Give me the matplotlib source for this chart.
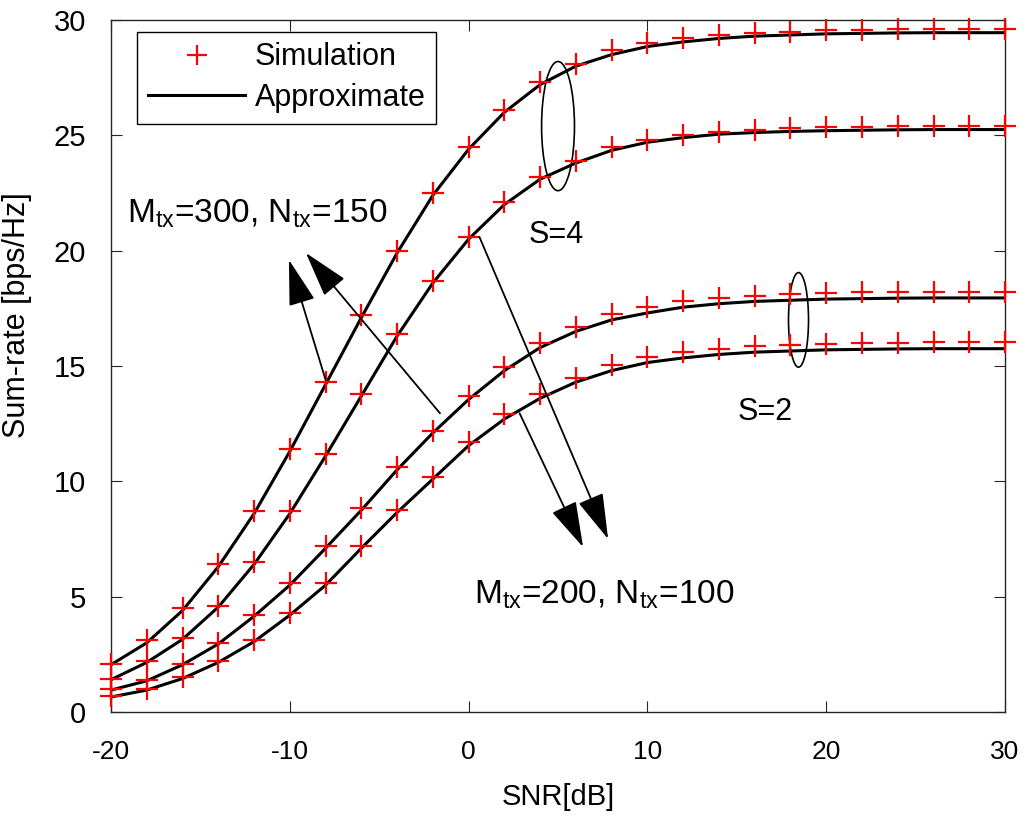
import matplotlib
matplotlib.use("Agg")
import matplotlib.pyplot as plt
from matplotlib.patches import Ellipse

plt.rcParams["font.family"] = ["Liberation Sans", "DejaVu Sans"]
plt.rcParams["mathtext.fontset"] = "custom"
plt.rcParams["mathtext.rm"] = "Liberation Sans"
plt.rcParams["axes.unicode_minus"] = False

# SNR grid (dB)
snr = list(range(-20, 31, 2))

# simulation markers
sim_300_s4 = [2.1, 3.1, 4.5, 6.4, 8.7, 11.4, 14.3, 17.2, 20.0, 22.5, 24.5, 26.1, 27.3,
              28.1, 28.7, 29.0, 29.2, 29.35, 29.45, 29.5, 29.55, 29.55, 29.6, 29.6, 29.6, 29.6]
sim_200_s4 = [1.45, 2.2, 3.2, 4.6, 6.5, 8.7, 11.2, 13.8, 16.4, 18.7, 20.6, 22.1, 23.2,
              23.9, 24.5, 24.8, 25.0, 25.15, 25.25, 25.3, 25.35, 25.35, 25.4, 25.4, 25.4, 25.4]
sim_300_s2 = [1.0, 1.4, 2.1, 3.0, 4.2, 5.6, 7.2, 8.85, 10.6, 12.2, 13.7, 14.95, 16.0,
              16.7, 17.25, 17.55, 17.8, 17.95, 18.05, 18.1, 18.15, 18.2, 18.2, 18.2, 18.2, 18.2]
sim_200_s2 = [0.7, 1.0, 1.5, 2.2, 3.1, 4.3, 5.6, 7.2, 8.75, 10.2, 11.7, 12.9, 13.8,
              14.5, 15.05, 15.4, 15.6, 15.75, 15.85, 15.9, 15.95, 16.0, 16.0, 16.05, 16.05, 16.05]

# approximation curves
apx_300_s4 = [2.05, 3.0, 4.4, 6.3, 8.6, 11.3, 14.2, 17.1, 19.9, 22.4, 24.4, 26.0, 27.2,
              28.0, 28.5, 28.85, 29.05, 29.2, 29.3, 29.35, 29.4, 29.42, 29.44, 29.45, 29.45, 29.45]
apx_200_s4 = [1.4, 2.15, 3.15, 4.55, 6.4, 8.6, 11.1, 13.7, 16.3, 18.6, 20.5, 22.0, 23.1,
              23.8, 24.35, 24.7, 24.9, 25.05, 25.12, 25.17, 25.2, 25.22, 25.24, 25.25, 25.25, 25.25]
apx_300_s2 = [0.95, 1.35, 2.05, 2.95, 4.15, 5.5, 7.1, 8.75, 10.5, 12.1, 13.55, 14.8, 15.8,
              16.5, 17.0, 17.3, 17.55, 17.7, 17.8, 17.85, 17.9, 17.92, 17.94, 17.95, 17.95, 17.95]
apx_200_s2 = [0.65, 0.95, 1.45, 2.15, 3.05, 4.2, 5.5, 7.1, 8.65, 10.1, 11.55, 12.7, 13.6,
              14.3, 14.8, 15.15, 15.35, 15.5, 15.6, 15.65, 15.7, 15.72, 15.74, 15.75, 15.75, 15.75]

fig = plt.figure(figsize=(10.31, 8.23), dpi=100)
ax = fig.add_axes([0.1077, 0.1349, 0.8671, 0.8408])

for apx in (apx_300_s4, apx_200_s4, apx_300_s2, apx_200_s2):
    ax.plot(snr, apx, "-", color="black", lw=2.2, zorder=2)
for sim in (sim_300_s4, sim_200_s4, sim_300_s2, sim_200_s2):
    ax.plot(snr, sim, "+", color="red", ms=16, mew=1.6, zorder=3, clip_on=False)

# legend proxies
ax.plot([], [], "+", color="red", ms=15, mew=1.6, label="Simulation")
ax.plot([], [], "-", color="black", lw=2.2, label="Approximate")
leg = ax.legend(loc="upper left", bbox_to_anchor=(0.029, 0.983), borderaxespad=0,
                fontsize=22, fancybox=False, edgecolor="black", framealpha=1,
                handlelength=3.2, borderpad=0.35, labelspacing=0.35, handletextpad=0.3)
leg.get_frame().set_linewidth(1.0)

# grouping ellipses
ax.add_patch(Ellipse((5.0, 25.4), 1.84, 5.6, fill=False, ec="black", lw=1.2))
ax.add_patch(Ellipse((18.45, 17.0), 1.12, 4.1, fill=False, ec="black", lw=1.2))
ax.text(4.9, 20.7, "S=4", fontsize=22, ha="center", va="center")
ax.text(16.6, 13.0, "S=2", fontsize=22, ha="center", va="center")

ax.text(-19.1, 21.6, r"M$_{\mathregular{tx}}$=300, N$_{\mathregular{tx}}$=150",
        fontsize=24, ha="left", va="center")
ax.text(0.3, 5.1, r"M$_{\mathregular{tx}}$=200, N$_{\mathregular{tx}}$=100",
        fontsize=24, ha="left", va="center")

arrow = dict(arrowstyle="-|>,head_length=1.2,head_width=0.35", color="black",
             lw=1.3, mutation_scale=24, shrinkA=0, shrinkB=0)
ax.annotate("", xy=(-10.05, 19.6), xytext=(-8.0, 14.4), arrowprops=arrow)
ax.annotate("", xy=(-9.1, 19.9), xytext=(-1.6, 12.95), arrowprops=arrow)
ax.annotate("", xy=(7.8, 7.5), xytext=(0.6, 20.6), arrowprops=arrow)
ax.annotate("", xy=(6.4, 7.15), xytext=(2.85, 12.95), arrowprops=arrow)

ax.set_xlim(-20, 30)
ax.set_ylim(0, 30)
ax.set_xticks([-20, -10, 0, 10, 20, 30])
ax.set_yticks([0, 5, 10, 15, 20, 25, 30])
ax.tick_params(direction="in", top=True, right=True, length=8, color="#262626")
ax.tick_params(axis="x", pad=20, labelsize=19)
ax.tick_params(axis="y", pad=18, labelsize=21)
for s in ax.spines.values():
    s.set_color("#262626")
    s.set_linewidth(1.0)
ax.set_xlabel("SNR[dB]", fontsize=21, labelpad=14)
ax.set_ylabel("Sum-rate [bps/Hz]", fontsize=22)
ax.yaxis.set_label_coords(-0.088, 0.574)

fig.savefig("out.png", dpi=100)
